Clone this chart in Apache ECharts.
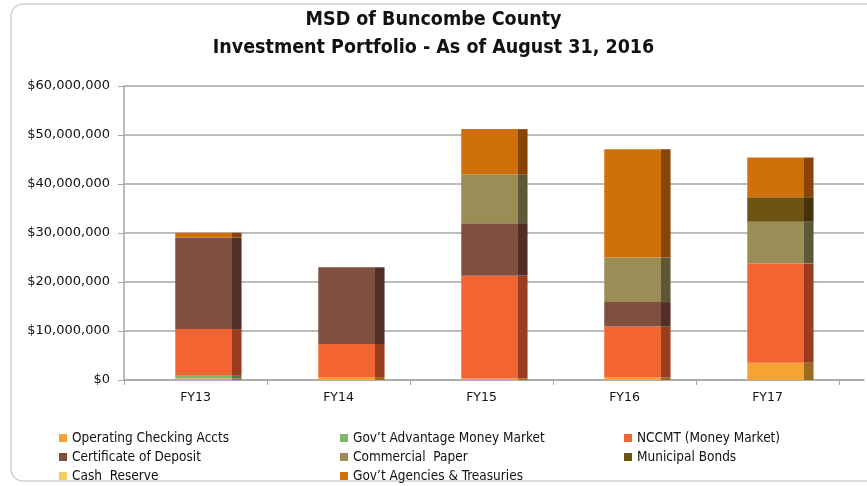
<!DOCTYPE html>
<html>
<head>
<meta charset="UTF-8">
<title>Investment Portfolio</title>
<script src="https://cdn.jsdelivr.net/npm/echarts@6/dist/echarts.min.js"></script>
<style>
  html, body { margin: 0; padding: 0; background: #fff; }
  #chart { width: 867px; height: 486px; }
</style>
</head>
<body>
<div id="chart"></div>
<script type="text/javascript">
// categories and values (dollars, millions)
var years = ['FY13', 'FY14', 'FY15', 'FY16', 'FY17'];
var operatingChecking = [0.3, 0.6, 0.3, 0.5, 3.5];
var govAdvantage = [0.7, 0, 0, 0, 0];
var nccmt = [9.4, 6.75, 21.0, 10.4, 20.3];
var certDeposit = [18.7, 15.65, 10.7, 5.0, 0];
var commercialPaper = [0, 0, 10.0, 9.1, 8.5];
var municipalBonds = [0, 0, 0, 0, 5.0];
var cashReserve = [0, 0, 0, 0, 0];
var govAgencies = [0.95, 0, 9.2, 22.1, 8.1];
var yTicks = [0, 10, 20, 30, 40, 50, 60];

// stacking order bottom to top, with front / side colours
var layers = [
  { name: 'Operating Checking Accts', values: operatingChecking, color: '#F4A433', side: '#9E6A1F' },
  { name: 'Gov\u2019t Advantage Money Market', values: govAdvantage, color: '#7CB96B', side: '#4F7A44' },
  { name: 'NCCMT (Money Market)', values: nccmt, color: '#F26532', side: '#9A3C1E' },
  { name: 'Certificate of Deposit', values: certDeposit, color: '#7F4F40', side: '#522E26' },
  { name: 'Commercial  Paper', values: commercialPaper, color: '#9A8E56', side: '#5E5837' },
  { name: 'Municipal Bonds', values: municipalBonds, color: '#6E5311', side: '#44330A' },
  { name: 'Cash  Reserve', values: cashReserve, color: '#F3CC63', side: '#A08537' },
  { name: 'Gov\u2019t Agencies & Treasuries', values: govAgencies, color: '#D0700A', side: '#874406' }
];

var M = 1000000;
var running = years.map(function () { return 0; });
var series = layers.map(function (layer) {
  var data = layer.values.map(function (v, i) {
    var base = running[i];
    running[i] += v * M;
    return [i, base, running[i]];
  });
  return {
    type: 'custom',
    name: layer.name,
    xAxisIndex: 1,
    yAxisIndex: 1,
    itemStyle: { color: layer.color },
    data: data,
    renderItem: function (params, api) {
      var base = api.value(1), top = api.value(2);
      if (top <= base) return null;
      var p0 = api.coord([api.value(0), base]);
      var p1 = api.coord([api.value(0), top]);
      var bw = api.size([1, 0])[0];
      var fl = p0[0] - 0.1415 * bw;
      var fr = p0[0] + 0.255 * bw;
      var sr = p0[0] + 0.322 * bw;
      return {
        type: 'group',
        children: [
          { type: 'rect', shape: { x: fl, y: p1[1], width: fr - fl, height: p0[1] - p1[1] }, style: { fill: layer.color } },
          { type: 'rect', shape: { x: fr, y: p1[1], width: sr - fr, height: p0[1] - p1[1] }, style: { fill: layer.side } }
        ]
      };
    }
  };
});

function money(v) {
  return '$' + String(Math.round(v)).replace(/\B(?=(\d{3})+(?!\d))/g, ',');
}

var narrow = "'DejaVu Sans Condensed', 'Liberation Sans', sans-serif";
var legendText = { fontFamily: narrow, fontSize: 13.5, color: '#111' };
function legendCol(names, left) {
  return {
    orient: 'vertical', left: left, top: 426, height: 80, itemWidth: 8, itemHeight: 8, itemGap: 5,
    icon: 'rect', textStyle: legendText, data: names, selectedMode: false
  };
}

var chart = echarts.init(document.getElementById('chart'));
chart.setOption({
  animation: false,
  title: {
    text: 'MSD of Buncombe County\nInvestment Portfolio - As of August 31, 2016',
    left: 'center', top: 1, itemGap: 0,
    textStyle: { fontFamily: narrow, fontWeight: 'bold', fontSize: 19.5, lineHeight: 28, color: '#111' }
  },
  graphic: [{
    type: 'rect', silent: true, z: -10,
    shape: { x: 11, y: 4, width: 900, height: 477, r: 12 },
    style: { fill: 'none', stroke: '#D0D0D0', lineWidth: 1.5 }
  }],
  legend: [
    legendCol(['Operating Checking Accts', 'Certificate of Deposit', 'Cash  Reserve'], 54),
    legendCol(['Gov\u2019t Advantage Money Market', 'Commercial  Paper', 'Gov\u2019t Agencies & Treasuries'], 335),
    legendCol(['NCCMT (Money Market)', 'Municipal Bonds'], 619)
  ],
  grid: [
    { left: 124, right: 3, top: 86, bottom: 106 },
    { left: 124, right: 28, top: 86, bottom: 106 }
  ],
  xAxis: [
    {
      type: 'value', gridIndex: 0, min: 0, max: 1,
      axisLine: { show: true, onZero: false, lineStyle: { color: '#A6A6A6', width: 1.5 } },
      axisTick: { show: false }, axisLabel: { show: false }, splitLine: { show: false }
    },
    {
      type: 'category', gridIndex: 1, data: years,
      axisLine: { show: false },
      axisTick: { show: true, length: 5, lineStyle: { color: '#A6A6A6' } },
      axisLabel: { margin: 11, fontFamily: 'DejaVu Sans', fontSize: 12.5, color: '#111' }
    }
  ],
  yAxis: [
    {
      type: 'value', gridIndex: 0, min: 0, max: 60 * M, interval: 10 * M,
      axisLine: { show: true, lineStyle: { color: '#A6A6A6', width: 1.5 } },
      axisTick: { show: true, length: 6, lineStyle: { color: '#A6A6A6' } },
      axisLabel: { margin: 14, fontFamily: 'DejaVu Sans', fontSize: 13, color: '#111', formatter: money },
      splitLine: { lineStyle: { color: '#A6A6A6', width: 1.5 } }
    },
    {
      type: 'value', gridIndex: 1, min: 0, max: yTicks[yTicks.length - 1] * M, interval: 10 * M,
      show: false, splitLine: { show: false }
    }
  ],
  series: series
});
</script>
</body>
</html>
